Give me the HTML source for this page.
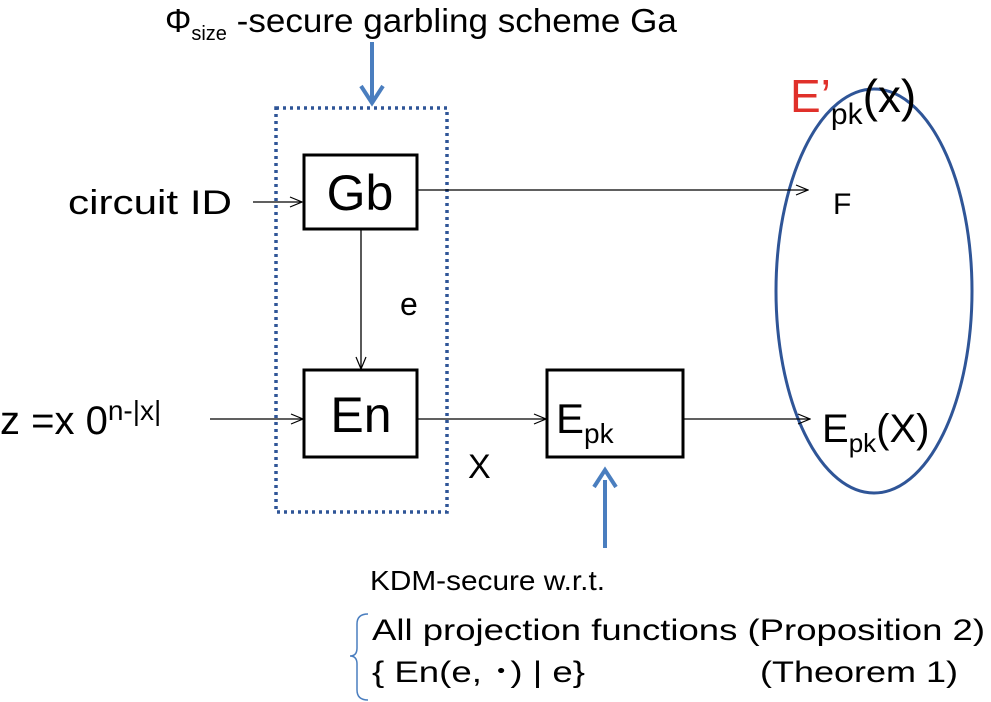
<!DOCTYPE html>
<html><head><style>body{margin:0;background:#fff}svg{display:block}text{font-family:"Liberation Sans",sans-serif;fill:#000}</style></head>
<body>
<svg width="991" height="702" viewBox="0 0 991 702" xmlns="http://www.w3.org/2000/svg">
<defs><marker id="a" markerWidth="14" markerHeight="12" refX="13" refY="6" orient="auto" markerUnits="userSpaceOnUse"><path d="M1,1 L13,6 L1,11" fill="none" stroke="#000" stroke-width="1.2"/></marker></defs>
<text x="165" y="32" font-size="33">Φ<tspan font-size="20" dy="8">size</tspan><tspan dy="-8" textLength="450" lengthAdjust="spacingAndGlyphs"> -secure garbling scheme Ga</tspan></text>
<line x1="372" y1="42" x2="372" y2="100" stroke="#4a7ebf" stroke-width="4"/>
<path d="M361,86 L372,103 L383,86" fill="none" stroke="#4a7ebf" stroke-width="4"/>
<rect x="276" y="108" width="171" height="404" fill="none" stroke="#2f5597" stroke-width="3.5" stroke-dasharray="3,4"/>
<rect x="304" y="155" width="113" height="74" fill="none" stroke="#000" stroke-width="3"/>
<rect x="304" y="370" width="113" height="87" fill="none" stroke="#000" stroke-width="3"/>
<rect x="547" y="370" width="136" height="87" fill="none" stroke="#000" stroke-width="3"/>
<text x="360" y="210" font-size="50" text-anchor="middle">Gb</text>
<text x="361" y="432" font-size="50" text-anchor="middle">En</text>
<text x="556" y="433" font-size="42">E<tspan font-size="28" dy="10">pk</tspan></text>
<ellipse cx="874" cy="291" rx="98" ry="202" fill="none" stroke="#2f5597" stroke-width="3"/>
<g stroke="#000" stroke-width="1.3" fill="none" marker-end="url(#a)">
<line x1="253" y1="202" x2="302" y2="202"/>
<line x1="417" y1="190" x2="808" y2="190"/>
<line x1="361" y1="229" x2="361" y2="369"/>
<line x1="210" y1="419" x2="303" y2="419"/>
<line x1="417" y1="419" x2="546" y2="419"/>
<line x1="683" y1="419" x2="810" y2="419"/>
</g>
<text x="68" y="214" font-size="34" textLength="164" lengthAdjust="spacingAndGlyphs">circuit ID</text>
<text x="400" y="315" font-size="32">e</text>
<text x="0" y="434" font-size="40">z =x 0<tspan font-size="28" dy="-14">n-|x|</tspan></text>
<text x="468" y="478" font-size="34">X</text>
<text x="833" y="214" font-size="30">F</text>
<text x="822" y="442" font-size="40">E<tspan font-size="26" dy="10">pk</tspan><tspan dy="-10">(X)</tspan></text>
<text x="790" y="112" font-size="46"><tspan style="fill:#e0302a">E’</tspan><tspan font-size="30" dy="12">pk</tspan><tspan dy="-12">(x)</tspan></text>
<line x1="605" y1="480" x2="605" y2="548" stroke="#4a7ebf" stroke-width="4"/>
<path d="M594,487 L605,470 L616,487" fill="none" stroke="#4a7ebf" stroke-width="4"/>
<text x="370" y="590" font-size="28" textLength="235" lengthAdjust="spacingAndGlyphs">KDM-secure w.r.t.</text>
<text x="372" y="640" font-size="30" textLength="613" lengthAdjust="spacingAndGlyphs">All projection functions (Proposition 2)</text>
<text x="372" y="682" font-size="30" textLength="213" lengthAdjust="spacingAndGlyphs">{ En(e, ･) | e}</text>
<text x="760" y="682" font-size="30" textLength="198" lengthAdjust="spacingAndGlyphs">(Theorem 1)</text>
<path d="M368,614 Q357,614 357,624 L357,648 Q357,656 350,656 Q357,656 357,664 L357,690 Q357,700 368,700" fill="none" stroke="#4a7ebf" stroke-width="1.5"/>
</svg>
</body></html>
